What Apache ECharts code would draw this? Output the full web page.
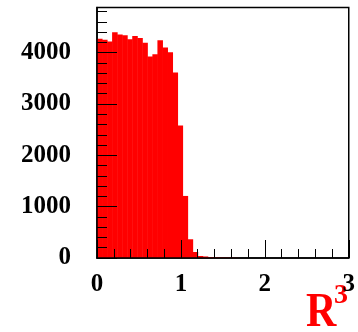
<!DOCTYPE html>
<html>
<head>
<meta charset="utf-8">
<script src="https://cdn.jsdelivr.net/npm/echarts@6/dist/echarts.min.js"></script>
<style>
  html, body { margin: 0; padding: 0; background: #fff; }
  #chart { width: 358px; height: 332px; }
</style>
</head>
<body>
<div id="chart"></div>
<script>
// Histogram of R^3: 50 bins of width 0.06 between 0 and 3
const xMin = 0;
const xMax = 3;
const binWidth = 0.06;
const counts = [
  4269, 4250, 4216, 4400, 4353, 4341, 4260, 4327, 4288, 4191,
  3924, 3970, 4243, 4099, 4010, 3612, 2579, 1209, 365, 117,
  39, 30, 20, 15, 12, 10, 8, 5, 0, 0,
  0, 0, 0, 0, 0, 0, 0, 0, 0, 0,
  0, 0, 0, 0, 0, 0, 0, 0, 0, 0
];
const yMax = 4880;
const xTickLabels = ['0', '1', '2', '3'];
const yTickLabels = ['0', '1000', '2000', '3000', '4000'];
const axisTitle = 'R';
const axisTitleSup = '3';

const histData = counts.map((c, i) => [xMin + i * binWidth, c, xMin + (i + 1) * binWidth]);

const labelFont = { fontFamily: 'Liberation Serif', fontWeight: 'bold', fontSize: 25, color: '#000' };
const lineStyle = { color: '#000', width: 1.5 };

const chart = echarts.init(document.getElementById('chart'), null, { renderer: 'canvas' });
chart.setOption({
  animation: false,
  backgroundColor: '#fff',
  grid: {
    left: 97, right: 3, top: 7.5, bottom: 74,
    show: true, borderColor: '#000', borderWidth: 1.5, backgroundColor: 'transparent'
  },
  // x-axis title "R³", drawn in the lower right corner
  graphic: [
    {
      type: 'text', x: 306, y: 338, scaleY: 1.15, originX: 0, originY: 0,
      style: { text: axisTitle, font: 'bold 42px "Liberation Serif"', fill: '#ff0000', align: 'left', verticalAlign: 'bottom' }
    },
    {
      type: 'text', x: 334, y: 310,
      style: { text: axisTitleSup, font: 'bold 28px "Liberation Serif"', fill: '#ff0000', align: 'left', verticalAlign: 'bottom' }
    }
  ],
  xAxis: [
    {
      type: 'value', min: xMin, max: xMax, interval: 1, z: 10,
      axisLine: { show: true, lineStyle: lineStyle },
      axisTick: { show: true, inside: true, length: 18, lineStyle: { color: '#000', width: 1 } },
      splitLine: { show: false },
      axisLabel: {
        ...labelFont, margin: 14,
        formatter: v => xTickLabels[Math.round(v)] ?? ''
      }
    },
    {
      type: 'value', min: xMin, max: xMax, interval: 0.2, z: 10, position: 'bottom',
      axisLine: { show: false },
      axisTick: { show: true, inside: true, length: 9, lineStyle: { color: '#000', width: 1 } },
      splitLine: { show: false },
      axisLabel: { show: false }
    }
  ],
  yAxis: [
    {
      type: 'value', min: 0, max: yMax, interval: 1000, z: 10,
      axisLine: { show: true, lineStyle: lineStyle },
      axisTick: { show: true, inside: true, length: 20, lineStyle: { color: '#000', width: 1 } },
      splitLine: { show: false },
      axisLabel: {
        ...labelFont, margin: 26, showMaxLabel: false, padding: [6, 0, 0, 0],
        formatter: v => yTickLabels[Math.round(v / 1000)] ?? ''
      }
    },
    {
      type: 'value', min: 0, max: yMax, interval: 200, z: 10, position: 'left',
      axisLine: { show: false },
      axisTick: { show: true, inside: true, length: 10, lineStyle: { color: '#000', width: 1 } },
      splitLine: { show: false },
      axisLabel: { show: false }
    }
  ],
  series: [{
    type: 'custom',
    xAxisIndex: 0,
    yAxisIndex: 0,
    encode: { x: [0, 2], y: 1 },
    data: histData,
    renderItem: function (params, api) {
      const v = api.value(1);
      if (!v) return null;
      const topLeft = api.coord([api.value(0), v]);
      const bottomRight = api.coord([api.value(2), 0]);
      return {
        type: 'rect',
        shape: {
          x: topLeft[0],
          y: topLeft[1],
          width: bottomRight[0] - topLeft[0] + 0.5,
          height: bottomRight[1] - topLeft[1]
        },
        style: { fill: '#ff0000' }
      };
    }
  }]
});
</script>
</body>
</html>
